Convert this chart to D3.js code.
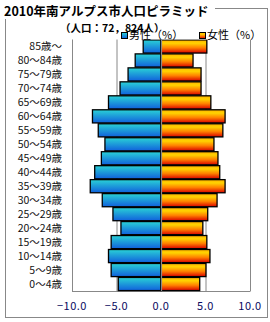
<!DOCTYPE html>
<html>
<head>
<meta charset="utf-8">
<script src="https://cdn.jsdelivr.net/npm/d3@7"></script>
<style>
  body { margin: 0; background: #fff; }
  text { font-family: "Noto Sans CJK JP", "Noto Sans", sans-serif; }
</style>
</head>
<body>
<div id="chart"></div>
<script>
// age groups, top to bottom
const ages = ["85歳〜", "80〜84歳", "75〜79歳", "70〜74歳", "65〜69歳", "60〜64歳",
  "55〜59歳", "50〜54歳", "45〜49歳", "40〜44歳", "35〜39歳", "30〜34歳",
  "25〜29歳", "20〜24歳", "15〜19歳", "10〜14歳", "5〜9歳", "0〜4歳"];
const male = [2.0, 2.9, 3.7, 4.6, 5.9, 7.7, 7.05, 6.3, 6.7, 7.45, 7.95, 6.6, 5.4, 4.5, 5.6, 5.9, 5.6, 4.8];
const female = [5.15, 3.6, 4.5, 4.5, 5.6, 7.2, 6.95, 5.95, 6.4, 6.6, 7.2, 6.3, 5.25, 4.7, 5.15, 5.5, 5.05, 4.35];
const xTicks = [-10, -5, 0, 5, 10];

const width = 270, height = 322;
const svg = d3.select("#chart").append("svg")
  .attr("width", width).attr("height", height);

const defs = svg.append("defs");
let gm = defs.append("linearGradient").attr("id", "gm").attr("x1", 0).attr("y1", 0).attr("x2", 0).attr("y2", 1);
gm.append("stop").attr("offset", "0%").attr("stop-color", "#2ad2d6");
gm.append("stop").attr("offset", "100%").attr("stop-color", "#1060dc");
let gf = defs.append("linearGradient").attr("id", "gf").attr("x1", 0).attr("y1", 0).attr("x2", 0).attr("y2", 1);
gf.append("stop").attr("offset", "0%").attr("stop-color", "#ffb000");
gf.append("stop").attr("offset", "25%").attr("stop-color", "#ffd400");
gf.append("stop").attr("offset", "60%").attr("stop-color", "#ff8000");
gf.append("stop").attr("offset", "100%").attr("stop-color", "#d80000");

// outer frame
svg.append("rect").attr("x", 5.5).attr("y", 8.5).attr("width", 262).attr("height", 309)
  .attr("fill", "none").attr("stroke", "#888");

// title (sits over the frame top)
svg.append("rect").attr("x", 0).attr("y", 0).attr("width", 215).attr("height", 19).attr("fill", "#fff");
svg.append("text").attr("x", 4).attr("y", 16)
  .attr("font-size", 12.5).attr("font-weight", "bold")
  .text("2010年南アルプス市人口ピラミッド");
svg.append("text").attr("x", 60).attr("y", 32)
  .attr("font-size", 10.5).attr("font-weight", "bold")
  .text("（人口：72，824人）");

const plot = { left: 72, right: 250, top: 39.5, bottom: 291 };
const x = d3.scaleLinear().domain([-10, 10]).range([plot.left, plot.right]);
const y = d3.scaleBand().domain(ages).range([plot.top, plot.bottom]).paddingInner(0.06).paddingOuter(0.03);

// gridlines
svg.append("g").selectAll("line").data(xTicks.filter(d => d !== 0)).join("line")
  .attr("x1", d => x(d) + 0.5).attr("x2", d => x(d) + 0.5)
  .attr("y1", plot.top).attr("y2", plot.bottom)
  .attr("stroke", "#888");
svg.append("line").attr("x1", plot.left).attr("x2", plot.right + 0.5)
  .attr("y1", plot.bottom + 0.5).attr("y2", plot.bottom + 0.5).attr("stroke", "#888");

// bars
svg.append("g").selectAll("rect").data(ages).join("rect")
  .attr("x", (d, i) => x(-male[i]))
  .attr("y", d => y(d))
  .attr("width", (d, i) => x(0) - x(-male[i]))
  .attr("height", y.bandwidth())
  .attr("fill", "url(#gm)").attr("stroke", "#000").attr("stroke-width", 1.3);
svg.append("g").selectAll("rect").data(ages).join("rect")
  .attr("x", x(0))
  .attr("y", d => y(d))
  .attr("width", (d, i) => x(female[i]) - x(0))
  .attr("height", y.bandwidth())
  .attr("fill", "url(#gf)").attr("stroke", "#000").attr("stroke-width", 1.3);

// zero axis
svg.append("line").attr("x1", x(0) + 0.5).attr("x2", x(0) + 0.5)
  .attr("y1", plot.top).attr("y2", plot.bottom).attr("stroke", "#888").attr("stroke-width", 1.2);

// y labels
svg.append("g").selectAll("text").data(ages).join("text")
  .attr("x", 62).attr("y", d => y(d) + y.bandwidth() / 2 + 4)
  .attr("text-anchor", "end").attr("font-size", 10.5).attr("fill", "#111")
  .text(d => d);

// x tick labels
const fmt = d3.format(".1f");
svg.append("g").selectAll("text").data(xTicks).join("text")
  .attr("x", d => x(d)).attr("y", 310)
  .attr("text-anchor", "middle").attr("font-size", 11).attr("fill", "#0a0a60")
  .attr("font-family", "'Liberation Sans', Arial, sans-serif")
  .attr("letter-spacing", 0.5)
  .text(d => fmt(d));

// legend
const lg = svg.append("g");
lg.append("rect").attr("x", 118).attr("y", 32.5).attr("width", 145).attr("height", 7).attr("fill", "#fff");
const legendItems = [{ label: "男性（%）", fill: "url(#gm)", x: 121 }, { label: "女性（%）", fill: "url(#gf)", x: 199 }];
legendItems.forEach(it => {
  lg.append("rect").attr("x", it.x + 0.5).attr("y", 32.5).attr("width", 6).attr("height", 6)
    .attr("fill", it.fill).attr("stroke", "#000");
  lg.append("text").attr("x", it.x + 8).attr("y", 38.5)
    .attr("font-size", 11).text(it.label);
});
</script>
</body>
</html>
